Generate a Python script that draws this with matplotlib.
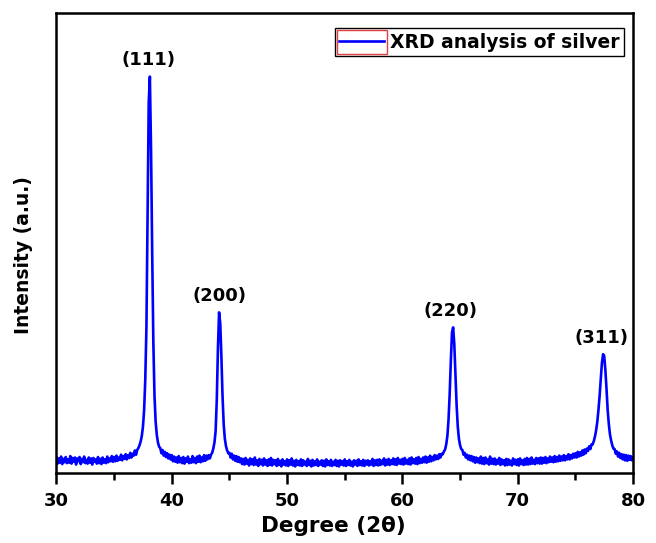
import numpy as np
import matplotlib.pyplot as plt
from matplotlib.patches import Rectangle

# 2-theta grid, 0.1 degree steps from 30 to 80
two_theta = np.round(np.arange(30.0, 80.05, 0.1), 1)

# intensity, one row per degree (x.0 ... x.9)
intensity = [
    4.4, 3.1, 4.2, 3.3, 4.6, 3.0, 4.1, 3.4, 4.5, 3.2,   # 30
    4.0, 3.3, 4.7, 3.1, 4.3, 3.5, 4.4, 2.9, 4.2, 3.6,   # 31
    4.5, 3.0, 4.1, 3.4, 4.6, 3.2, 3.9, 3.1, 4.4, 3.3,   # 32
    4.2, 2.9, 4.3, 3.5, 4.0, 3.1, 4.5, 3.2, 4.1, 3.0,   # 33
    4.4, 3.3, 4.0, 3.2, 4.6, 3.4, 4.2, 3.6, 4.7, 3.5,   # 34
    4.5, 3.6, 4.8, 3.7, 4.4, 3.9, 5.0, 3.8, 4.7, 4.1,   # 35
    5.1, 4.0, 4.9, 4.3, 5.4, 4.4, 5.2, 4.8, 5.9, 5.0,   # 36
    6.0, 6.4, 7.0, 7.8, 9.0, 11.0, 14.5, 21.0, 32.0, 55.0,  # 37
    80.0, 85.5, 70.0, 48.0, 29.0, 17.5, 12.0, 9.2, 7.6, 6.7,  # 38
    6.4, 5.3, 6.0, 4.8, 5.6, 4.5, 5.3, 4.2, 5.0, 4.0,   # 39
    4.9, 3.6, 4.6, 3.5, 4.4, 3.3, 4.7, 3.4, 4.3, 3.2,   # 40
    4.5, 3.1, 4.2, 3.5, 4.6, 3.2, 4.0, 3.3, 4.7, 3.4,   # 41
    4.3, 3.2, 4.6, 3.5, 4.8, 3.4, 4.4, 3.6, 4.9, 3.7,   # 42
    4.8, 4.0, 4.9, 4.2, 5.0, 5.4, 6.3, 7.6, 10.0, 16.5,  # 43
    27.5, 35.3, 33.0, 26.0, 17.5, 11.5, 8.4, 6.8, 5.9, 5.3,  # 44
    5.4, 4.4, 5.2, 4.0, 4.8, 3.7, 4.7, 3.5, 4.5, 3.4,   # 45
    4.2, 3.0, 4.1, 2.9, 4.3, 3.1, 3.9, 2.7, 4.2, 3.0,   # 46
    4.0, 2.8, 4.4, 2.9, 3.8, 2.6, 4.1, 3.0, 3.9, 2.7,   # 47
    4.2, 2.9, 3.8, 2.6, 4.0, 2.8, 4.3, 2.7, 3.9, 3.0,   # 48
    3.8, 2.6, 4.1, 2.8, 3.7, 2.5, 4.0, 2.9, 3.6, 2.7,   # 49
    4.0, 2.6, 3.8, 2.9, 4.2, 2.7, 3.7, 2.5, 3.9, 2.8,   # 50
    3.6, 2.7, 4.0, 2.6, 3.8, 2.9, 3.5, 2.6, 4.1, 2.8,   # 51
    3.7, 2.5, 3.9, 2.7, 3.6, 2.8, 4.0, 2.6, 3.5, 2.9,   # 52
    3.8, 2.6, 3.7, 2.5, 4.0, 2.8, 3.6, 2.7, 3.9, 2.6,   # 53
    3.5, 2.8, 3.9, 2.6, 3.7, 2.5, 3.8, 2.9, 3.6, 2.7,   # 54
    4.0, 2.6, 3.6, 2.8, 3.9, 2.7, 3.5, 2.5, 3.8, 2.9,   # 55
    3.7, 2.6, 4.0, 2.8, 3.6, 2.7, 3.9, 2.6, 3.7, 2.9,   # 56
    3.8, 2.7, 3.6, 2.9, 4.1, 2.6, 3.8, 2.8, 3.9, 2.7,   # 57
    4.0, 2.8, 3.7, 3.0, 4.2, 2.7, 3.9, 2.9, 4.1, 2.8,   # 58
    3.8, 3.0, 4.2, 2.9, 4.0, 2.8, 4.3, 3.1, 3.9, 3.0,   # 59
    4.1, 2.9, 4.3, 3.1, 3.9, 3.0, 4.2, 2.9, 4.4, 3.2,   # 60
    4.0, 3.1, 4.3, 3.0, 4.5, 3.2, 4.1, 3.3, 4.4, 3.4,   # 61
    4.6, 3.3, 4.4, 3.5, 4.8, 3.6, 4.5, 3.8, 4.9, 4.0,   # 62
    4.8, 4.1, 5.1, 4.4, 5.2, 5.1, 5.7, 6.1, 7.2, 9.0,   # 63
    12.5, 18.0, 25.0, 31.0, 32.1, 28.5, 22.0, 15.5, 11.0, 8.4,  # 64
    7.0, 6.2, 6.0, 5.0, 5.4, 4.4, 5.0, 4.0, 4.8, 3.8,   # 65
    4.7, 3.6, 4.5, 3.3, 4.4, 3.4, 4.2, 3.2, 4.6, 3.1,   # 66
    4.3, 3.0, 4.4, 3.2, 4.0, 2.9, 4.6, 3.1, 4.1, 3.0,   # 67
    4.2, 2.9, 3.9, 3.1, 4.3, 2.8, 4.0, 3.0, 3.8, 2.7,   # 68
    4.1, 2.8, 4.0, 2.9, 3.7, 2.7, 4.2, 3.0, 3.9, 2.8,   # 69
    4.0, 2.7, 4.2, 3.0, 3.8, 2.8, 4.1, 2.9, 4.3, 2.9,   # 70
    4.1, 3.0, 4.4, 3.1, 3.9, 3.0, 4.3, 3.2, 4.2, 3.1,   # 71
    4.4, 3.1, 4.3, 3.3, 4.5, 3.2, 4.2, 3.4, 4.6, 3.5,   # 72
    4.4, 3.4, 4.7, 3.5, 4.5, 3.6, 4.8, 3.7, 4.6, 3.8,   # 73
    4.9, 3.8, 4.7, 4.0, 5.1, 4.0, 4.9, 4.2, 5.2, 4.4,   # 74
    5.3, 4.4, 5.6, 4.6, 5.5, 4.8, 5.9, 5.0, 6.1, 5.3,   # 75
    6.3, 5.8, 6.8, 6.2, 7.2, 7.2, 7.9, 8.9, 10.2, 12.0,  # 76
    14.5, 17.5, 21.0, 24.5, 26.4, 26.0, 23.0, 19.0, 14.5, 11.5,  # 77
    9.3, 8.0, 7.0, 6.3, 6.2, 5.2, 5.7, 4.6, 5.4, 4.3,   # 78
    5.1, 4.0, 5.0, 3.8, 4.9, 3.7, 4.8, 3.9, 4.7, 3.8,   # 79
    4.4,                                                 # 80
]

peak_labels = ["(111)", "(200)", "(220)", "(311)"]
peak_pos = [38.0, 44.1, 64.2, 77.3]
peak_height = [85.5, 35.3, 32.1, 26.4]

plt.rcParams["font.family"] = "DejaVu Sans"
plt.rcParams["font.weight"] = "bold"

fig = plt.figure(figsize=(6.56, 5.43), dpi=100)
ax = fig.add_axes([0.0861, 0.1289, 0.8789, 0.8477])

ax.plot(two_theta, intensity, color="#0000ff", lw=1.9, label="XRD analysis of silver")

for lab, xp, yp in zip(peak_labels, peak_pos, peak_height):
    ax.text(xp, yp + 1.6, lab, ha="center", va="bottom", fontsize=13, fontweight="bold")

ax.set_xlim(30, 80)
ax.set_ylim(1.1, 99.1)
ax.set_xticks([30, 40, 50, 60, 70, 80])
ax.set_xticks([35, 45, 55, 65, 75], minor=True)
ax.set_yticks([])
ax.tick_params(axis="x", which="major", direction="out", length=8, width=1.8,
               labelsize=13, pad=6)
ax.tick_params(axis="x", which="minor", direction="out", length=5, width=1.8)
for s in ax.spines.values():
    s.set_linewidth(1.8)

ax.set_xlabel("Degree (2\u03b8)", fontsize=15.5, fontweight="bold")
ax.set_ylabel("Intensity (a.u.)", fontsize=13.5, fontweight="bold")
ax.xaxis.set_label_coords(0.48, -0.093)
ax.yaxis.set_label_coords(-0.04, 0.474)

leg = ax.legend(loc="upper right", bbox_to_anchor=(0.985, 0.967), fancybox=False,
                edgecolor="black", framealpha=1, fontsize=13.5, handlelength=2.4,
                borderpad=0.25, handletextpad=0.3, borderaxespad=0)
leg.get_frame().set_linewidth(1.0)

# red box around the legend handle, as in the original figure
fig.canvas.draw()
fb = leg.get_frame().get_window_extent()
inv = fig.transFigure.inverted()
x0, y0 = inv.transform((fb.x0 + 2, fb.y0 + 2))
x1, y1 = inv.transform((fb.x0 + 52, fb.y1 - 2))
fig.patches.append(Rectangle((x0, y0), x1 - x0, y1 - y0, transform=fig.transFigure,
                             fill=False, edgecolor="#e04040", lw=1.0, zorder=10))

fig.savefig("out.png", dpi=100)
